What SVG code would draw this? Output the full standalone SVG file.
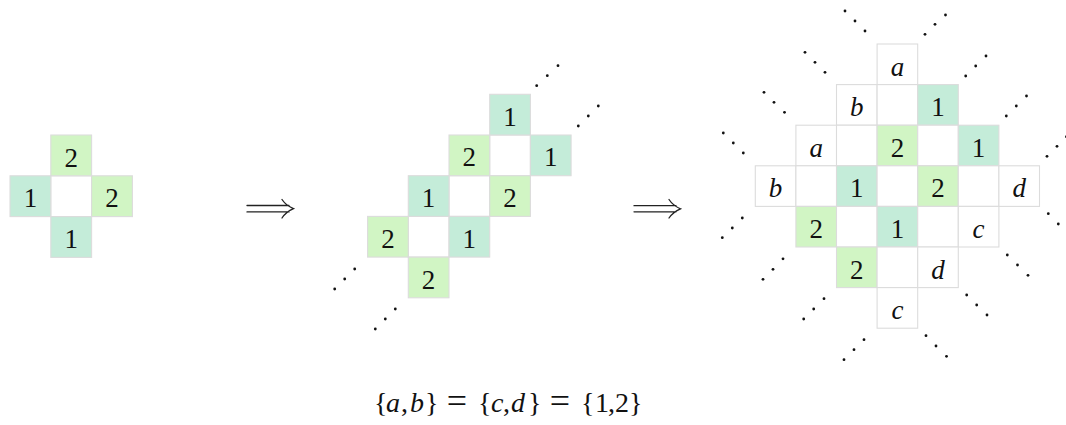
<svg xmlns="http://www.w3.org/2000/svg" width="1066" height="425" viewBox="0 0 1066 425">
<style>
rect{stroke:#dcdcdc;stroke-width:1.1}
.g{fill:#d1f5c4}
.t{fill:#c4ecd9}
.w{fill:#ffffff}
text{font-family:"Liberation Serif","DejaVu Serif",serif;font-size:27px;fill:#111;text-anchor:middle}
.i{font-style:italic}
.f{font-size:28px;text-anchor:start}
.eq{font-size:36px;text-anchor:middle}
.d{fill:#111}
.ar{fill:none;stroke:#222;stroke-width:1.3;stroke-linecap:round}
</style>
<rect width="1066" height="425" fill="#fff" style="stroke:none"/>
<g id="left">
<rect class="w" x="50.8" y="175.8" width="40.8" height="40.8"/>
<rect class="g" x="50.8" y="135" width="40.8" height="40.8"/>
<rect class="t" x="10" y="175.8" width="40.8" height="40.8"/>
<rect class="g" x="91.6" y="175.8" width="40.8" height="40.8"/>
<rect class="t" x="50.8" y="216.6" width="40.8" height="40.8"/>
<text x="71.2" y="166.5">2</text>
<text x="30.4" y="207.3">1</text>
<text x="112" y="207.3">2</text>
<text x="71.2" y="248.1">1</text>
</g>
<g id="arrow1">
<path class="ar" d="M247,205.5H289M247,211.9H289M282,199.5Q286,205.5 293.5,208.7Q286,212 282,218"/>
</g>
<g id="middle">
<rect class="w" x="489.7" y="135" width="40.7" height="40.7"/>
<rect class="w" x="449" y="175.7" width="40.7" height="40.7"/>
<rect class="w" x="408.3" y="216.4" width="40.7" height="40.7"/>
<rect class="t" x="489.7" y="94.3" width="40.7" height="40.7"/>
<rect class="g" x="449" y="135" width="40.7" height="40.7"/>
<rect class="t" x="530.4" y="135" width="40.7" height="40.7"/>
<rect class="t" x="408.3" y="175.7" width="40.7" height="40.7"/>
<rect class="g" x="489.7" y="175.7" width="40.7" height="40.7"/>
<rect class="g" x="367.6" y="216.4" width="40.7" height="40.7"/>
<rect class="t" x="449" y="216.4" width="40.7" height="40.7"/>
<rect class="g" x="408.3" y="257.1" width="40.7" height="40.7"/>
<text x="510" y="125.7">1</text>
<text x="469.3" y="166.4">2</text>
<text x="550.8" y="166.4">1</text>
<text x="428.6" y="207.1">1</text>
<text x="510" y="207.1">2</text>
<text x="388" y="247.8">2</text>
<text x="469.3" y="247.8">1</text>
<text x="428.6" y="288.5">2</text>
<g id="middle-dots">
<circle class="d" cx="536.7" cy="85.7" r="1.4"/><circle class="d" cx="547.3" cy="75.7" r="1.4"/><circle class="d" cx="558" cy="65.7" r="1.4"/>
<circle class="d" cx="578.3" cy="126" r="1.4"/><circle class="d" cx="588.3" cy="116" r="1.4"/><circle class="d" cx="598.3" cy="106" r="1.4"/>
<circle class="d" cx="334.7" cy="289" r="1.4"/><circle class="d" cx="344.7" cy="279" r="1.4"/><circle class="d" cx="354.7" cy="269" r="1.4"/>
<circle class="d" cx="375.3" cy="329" r="1.4"/><circle class="d" cx="385.3" cy="319" r="1.4"/><circle class="d" cx="395.3" cy="309" r="1.4"/>
</g>
</g>
<g id="arrow2">
<path class="ar" d="M634,205.7H676M634,211.8H676M669,199.5Q673,205.6 680.5,208.8Q673,212 669,218"/>
</g>
<g id="right">
<rect class="w" x="877.1" y="44" width="40.6" height="40.6"/>
<rect class="w" x="836.5" y="84.6" width="40.6" height="40.6"/>
<rect class="w" x="877.1" y="84.6" width="40.6" height="40.6"/>
<rect class="t" x="917.7" y="84.6" width="40.6" height="40.6"/>
<rect class="w" x="795.9" y="125.2" width="40.6" height="40.6"/>
<rect class="w" x="836.5" y="125.2" width="40.6" height="40.6"/>
<rect class="g" x="877.1" y="125.2" width="40.6" height="40.6"/>
<rect class="w" x="917.7" y="125.2" width="40.6" height="40.6"/>
<rect class="t" x="958.3" y="125.2" width="40.6" height="40.6"/>
<rect class="w" x="755.3" y="165.8" width="40.6" height="40.6"/>
<rect class="w" x="795.9" y="165.8" width="40.6" height="40.6"/>
<rect class="t" x="836.5" y="165.8" width="40.6" height="40.6"/>
<rect class="w" x="877.1" y="165.8" width="40.6" height="40.6"/>
<rect class="g" x="917.7" y="165.8" width="40.6" height="40.6"/>
<rect class="w" x="958.3" y="165.8" width="40.6" height="40.6"/>
<rect class="w" x="998.9" y="165.8" width="40.6" height="40.6"/>
<rect class="g" x="795.9" y="206.4" width="40.6" height="40.6"/>
<rect class="w" x="836.5" y="206.4" width="40.6" height="40.6"/>
<rect class="t" x="877.1" y="206.4" width="40.6" height="40.6"/>
<rect class="w" x="917.7" y="206.4" width="40.6" height="40.6"/>
<rect class="w" x="958.3" y="206.4" width="40.6" height="40.6"/>
<rect class="g" x="836.5" y="247" width="40.6" height="40.6"/>
<rect class="w" x="877.1" y="247" width="40.6" height="40.6"/>
<rect class="w" x="917.7" y="247" width="40.6" height="40.6"/>
<rect class="w" x="877.1" y="287.6" width="40.6" height="40.6"/>
<text class="i" x="897.4" y="75.5">a</text>
<text class="i" x="856.8" y="116.1">b</text>
<text x="938" y="116.1">1</text>
<text class="i" x="816.2" y="156.7">a</text>
<text x="897.4" y="156.7">2</text>
<text x="978.6" y="156.7">1</text>
<text class="i" x="775.6" y="197.3">b</text>
<text x="856.8" y="197.3">1</text>
<text x="938" y="197.3">2</text>
<text class="i" x="1019.2" y="197.3">d</text>
<text x="816.2" y="237.9">2</text>
<text x="897.4" y="237.9">1</text>
<text class="i" x="978.6" y="237.9">c</text>
<text x="856.8" y="278.5">2</text>
<text class="i" x="938" y="278.5">d</text>
<text class="i" x="897.4" y="319.1">c</text>
<g id="right-dots">
<circle class="d" cx="845" cy="11" r="1.4"/><circle class="d" cx="855" cy="21" r="1.4"/><circle class="d" cx="865" cy="31" r="1.4"/>
<circle class="d" cx="925" cy="34.3" r="1.4"/><circle class="d" cx="935" cy="24.3" r="1.4"/><circle class="d" cx="945.5" cy="15" r="1.4"/>
<circle class="d" cx="805" cy="52.3" r="1.4"/><circle class="d" cx="815" cy="62.3" r="1.4"/><circle class="d" cx="825" cy="72.3" r="1.4"/>
<circle class="d" cx="965.7" cy="76" r="1.4"/><circle class="d" cx="975.7" cy="66" r="1.4"/><circle class="d" cx="986" cy="56" r="1.4"/>
<circle class="d" cx="764" cy="92.3" r="1.4"/><circle class="d" cx="774" cy="102.3" r="1.4"/><circle class="d" cx="784.5" cy="112.3" r="1.4"/>
<circle class="d" cx="1006.3" cy="116" r="1.4"/><circle class="d" cx="1016.3" cy="106" r="1.4"/><circle class="d" cx="1026.5" cy="96" r="1.4"/>
<circle class="d" cx="723.3" cy="133" r="1.4"/><circle class="d" cx="733.3" cy="143" r="1.4"/><circle class="d" cx="743.3" cy="153" r="1.4"/>
<circle class="d" cx="1047" cy="156.3" r="1.4"/><circle class="d" cx="1057" cy="146.3" r="1.4"/><circle class="d" cx="1066.5" cy="136.7" r="1.4"/>
<circle class="d" cx="722.3" cy="237.7" r="1.4"/><circle class="d" cx="732.3" cy="228" r="1.4"/><circle class="d" cx="742.3" cy="218" r="1.4"/>
<circle class="d" cx="1048.3" cy="213.7" r="1.4"/><circle class="d" cx="1058.3" cy="224" r="1.4"/><circle class="d" cx="1068.3" cy="234" r="1.4"/>
<circle class="d" cx="763" cy="279.3" r="1.4"/><circle class="d" cx="773" cy="269.3" r="1.4"/><circle class="d" cx="783" cy="258.8" r="1.4"/>
<circle class="d" cx="1007.3" cy="255" r="1.4"/><circle class="d" cx="1017.5" cy="265" r="1.4"/><circle class="d" cx="1028" cy="275.3" r="1.4"/>
<circle class="d" cx="803.7" cy="319" r="1.4"/><circle class="d" cx="813.7" cy="309" r="1.4"/><circle class="d" cx="824" cy="298.7" r="1.4"/>
<circle class="d" cx="966.7" cy="295" r="1.4"/><circle class="d" cx="976.7" cy="305" r="1.4"/><circle class="d" cx="987" cy="315" r="1.4"/>
<circle class="d" cx="844" cy="359.7" r="1.4"/><circle class="d" cx="854" cy="349.7" r="1.4"/><circle class="d" cx="864" cy="339.7" r="1.4"/>
<circle class="d" cx="926" cy="335.7" r="1.4"/><circle class="d" cx="936" cy="346" r="1.4"/><circle class="d" cx="946.5" cy="356.3" r="1.4"/>
</g>
</g>
<g id="formula">
<text class="f" y="412"><tspan x="374">{</tspan><tspan x="386" class="i">a</tspan><tspan x="401">,</tspan><tspan x="410" class="i">b</tspan><tspan x="425">}</tspan><tspan x="478">{</tspan><tspan x="491" class="i">c</tspan><tspan x="503">,</tspan><tspan x="511" class="i">d</tspan><tspan x="528">}</tspan><tspan x="581">{</tspan><tspan x="595">1</tspan><tspan x="608">,</tspan><tspan x="615">2</tspan><tspan x="629">}</tspan></text>
<text class="eq" x="457" y="413">=</text>
<text class="eq" x="560" y="413">=</text>
</g>
</svg>
